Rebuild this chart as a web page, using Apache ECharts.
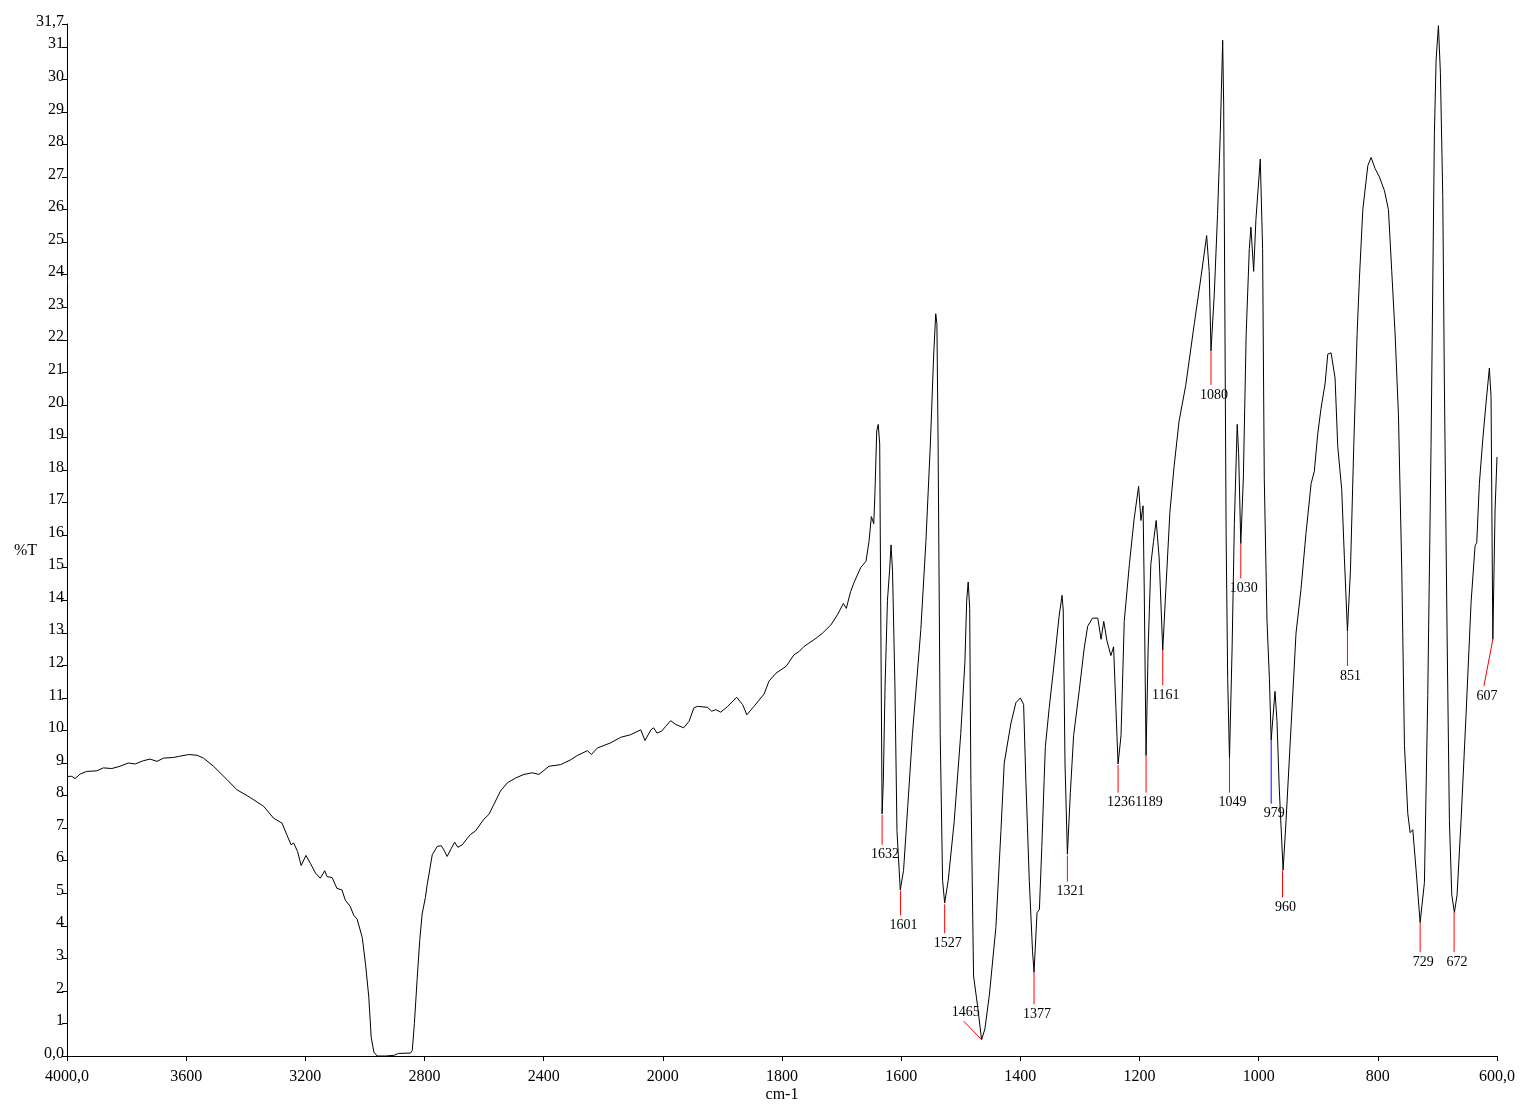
<!DOCTYPE html>
<html>
<head>
<meta charset="utf-8">
<script src="https://cdn.jsdelivr.net/npm/echarts@6/dist/echarts.min.js"></script>
<style>
html,body{margin:0;padding:0;background:#fff;}
#chart{width:1522px;height:1108px;}
</style>
</head>
<body>
<div id="chart"></div>
<script>
// Spectrum: wavenumber (cm-1) and %T
var wavenumbers = [4000,3984,3973,3956,3934,3900,3878,3850,3822,3794,3771,3744,3721,3698,3676,3643,3626,3592,3564,3542,3508,3463,3430,3385,3340,3307,3278,3262,3248,3239,3226,3214,3198,3183,3166,3150,3135,3127,3110,3094,3077,3066,3049,3038,3026,3009,2998,2987,2979,2970,2959,2930,2903,2887,2847,2841,2834,2825,2816,2808,2797,2791,2774,2757,2744,2735,2724,2710,2699,2688,2673,2656,2645,2629,2601,2584,2567,2545,2522,2494,2466,2438,2416,2382,2343,2309,2287,2253,2240,2220,2175,2141,2108,2074,2060,2040,2031,2020,2004,1995,1987,1978,1965,1956,1948,1942,1925,1918,1911,1903,1891,1876,1866,1859,1847,1830,1822,1810,1793,1780,1771,1763,1755,1743,1732,1718,1707,1697,1692,1685,1679,1668,1659,1654,1650,1646,1644,1641,1638.5,1636,1634,1632,1630,1627,1623,1619.5,1617,1614.5,1610.5,1607,1601.5,1596,1589,1581,1567,1558.5,1551,1545.5,1542,1540,1538,1534.5,1530.5,1527,1521,1511,1500,1493,1490,1487.5,1485,1483,1478.5,1472,1465,1459.5,1452,1441,1432.6,1427,1416,1407.5,1400,1394.5,1390.6,1385,1379.5,1377,1372,1368,1364,1360,1358,1351.5,1343,1335,1330,1328,1325,1321,1316,1310.6,1301,1293,1287,1279,1270,1264.5,1260,1254.6,1248,1243.5,1239.6,1236,1231,1225.6,1217,1209,1201.5,1197.6,1194,1192,1189,1185.5,1181,1176.5,1172,1167,1161,1156,1149,1142,1133.6,1122.4,1108,1097,1087.3,1083,1080,1074.5,1069,1064.5,1060.4,1058.7,1054.6,1052,1049,1044.6,1040.8,1036,1033.6,1030,1025.7,1021,1015.7,1013,1008.4,1004.6,997.3,993.4,990.6,986,982,979,972.6,969.3,965.4,959,954,945.7,937.3,929,920.6,912,906.6,900.9,895.3,888.6,884,878.5,871.8,867.3,860.6,856.1,851,846,840.4,834.8,830.9,825.2,816.8,811.3,804.6,797.3,788.9,782.2,776.6,771,765.4,759.8,755.3,749.7,745.8,741.3,735.8,729,721.8,716.2,710.7,705.1,702.2,698.3,695,691,688.3,683.8,679.9,675.9,671.5,667,660.3,651.9,643.5,636.8,634,629.6,623.9,618.4,612.8,610,607,603.2,600];
var transmittance = [8.59,8.59,8.52,8.66,8.74,8.76,8.85,8.83,8.90,9.00,8.97,9.07,9.12,9.05,9.15,9.17,9.20,9.26,9.24,9.15,8.90,8.49,8.18,7.94,7.67,7.31,7.15,6.79,6.49,6.54,6.28,5.85,6.16,5.92,5.62,5.46,5.69,5.51,5.48,5.15,5.10,4.79,4.59,4.33,4.20,3.64,2.83,1.81,0.58,0.12,0.00,0.00,0.02,0.08,0.09,0.17,0.99,2.32,3.55,4.36,4.87,5.26,6.18,6.44,6.46,6.33,6.13,6.38,6.57,6.41,6.49,6.69,6.81,6.91,7.27,7.42,7.73,8.14,8.39,8.54,8.65,8.70,8.65,8.90,8.95,9.10,9.23,9.38,9.26,9.46,9.62,9.79,9.87,10.02,9.69,10.02,10.08,9.92,9.98,10.13,10.30,10.18,10.08,10.28,10.69,10.74,10.71,10.59,10.64,10.56,10.74,11.02,10.79,10.48,10.74,11.12,11.51,11.76,11.97,12.32,12.43,12.58,12.68,12.83,12.99,13.24,13.55,13.90,13.75,14.26,14.55,15.00,15.20,15.80,16.57,16.35,17.30,19.20,19.40,18.80,12.90,7.44,8.40,11.40,14.00,14.90,15.70,14.90,11.40,6.90,5.10,5.70,7.66,9.90,13.10,15.80,18.80,21.50,22.80,22.50,18.80,9.90,5.40,4.70,5.40,7.20,9.90,12.10,14.00,14.56,13.75,8.40,2.46,1.57,0.50,0.83,1.87,3.95,6.90,9.00,10.20,10.85,11.00,10.80,8.40,5.40,3.20,2.57,4.40,4.50,6.40,8.50,9.50,10.70,12.10,13.50,14.15,13.70,8.97,6.20,8.10,9.84,11.25,12.50,13.20,13.45,13.45,12.80,13.35,12.75,12.30,12.57,10.70,8.97,9.84,13.35,15.10,16.50,17.50,16.45,16.90,14.25,9.23,12.50,15.10,15.80,16.45,15.30,12.47,14.25,16.70,18.10,19.50,20.60,22.50,23.90,25.20,24.10,21.66,23.40,25.85,28.30,31.20,29.20,16.00,11.60,9.16,12.50,16.35,19.40,18.50,15.74,17.75,22.15,24.80,25.46,24.10,25.70,27.55,24.80,17.75,13.36,11.60,9.71,11.20,10.30,8.20,5.71,7.24,10.10,12.99,14.33,16.05,17.58,17.96,19.10,19.90,20.64,21.56,21.60,20.83,18.73,17.40,15.28,13.05,14.90,18.73,22.17,23.90,26.00,27.35,27.60,27.26,27.00,26.58,26.00,24.09,22.17,19.70,14.90,9.54,7.44,6.86,6.95,5.71,4.10,5.33,11.07,18.73,28.30,30.60,31.65,30.20,26.40,20.64,12.99,7.24,4.95,4.41,4.95,7.24,10.50,13.94,15.67,15.77,17.58,18.93,20.06,21.13,20.26,12.80,16.80,18.40];

// Peak annotations
var peakLabels = ['1632','1601','1527','1465','1377','1321','1236','1189','1161','1080','1049','1030','979','960','851','729','672','607'];
var peakWn     = [1632,1601,1527,1465,1377,1321,1236,1189,1161,1080,1049,1030,979,960,851,729,672,607];
var peakTip    = [7.41,5.08,4.66,0.50,2.57,6.16,8.94,9.22,12.47,21.65,9.16,15.74,9.71,5.70,13.05,4.10,4.41,12.80];
var peakEndWn  = [1632,1601,1527,1495,1377,1321,1236,1189,1161,1080,1049,1030,979,960,851,729,672,622];
var peakEnd    = [6.49,4.32,3.77,1.07,1.59,5.36,8.09,8.09,11.39,20.61,8.09,14.67,7.75,4.87,11.98,3.19,3.19,11.36];
var peakColors = ['#ff0000','#ff0000','#ff0000','#ff0000','#ff0000','#ff0000','#ff0000','#ff0000','#ff0000','#ff0000','#ff0000','#ff0000','#0000ff','#ff0000','#ff0000','#ff0000','#ff0000','#ff0000'];
var peakLabelAbove = [false,false,false,true,false,false,false,false,false,false,false,false,false,false,false,false,false,false];

// X tick labels (axis is split: 4000-2000 compressed, 2000-600 expanded)
var xTickLabels = ['4000,0','3600','3200','2800','2400','2000','1800','1600','1400','1200','1000','800','600,0'];

// position transform for the split wavenumber scale
function toT(wn){ return wn >= 2000 ? (4000 - wn) / 2 : 1000 + (2000 - wn); }

var FONT = 'Liberation Serif';
var spectrum = wavenumbers.map(function(w,i){ return [toT(w), transmittance[i]]; });
var peaks = peakWn.map(function(w,i){ return [toT(w), peakTip[i], toT(peakEndWn[i]), peakEnd[i], i]; });

var chart = echarts.init(document.getElementById('chart'), null, {renderer:'canvas'});
chart.setOption({
  animation: false,
  backgroundColor: '#ffffff',
  grid: {left: 67, right: 25, top: 24, bottom: 49, containLabel: false},
  xAxis: {
    type: 'value', min: 0, max: 2400, interval: 200,
    name: 'cm-1', nameLocation: 'middle', nameGap: 31, nameMoveOverlap: false,
    nameTextStyle: {fontFamily: FONT, fontSize: 16, color: '#000'},
    axisLine: {show: true, onZero: false, lineStyle: {color: '#000', width: 1}},
    axisTick: {show: true, inside: false, length: 5, lineStyle: {color: '#000'}},
    axisLabel: {fontFamily: FONT, fontSize: 16, color: '#000', margin: 13,
      formatter: function(v){ var i = Math.round(v/200); return xTickLabels[i] !== undefined ? xTickLabels[i] : ''; }},
    splitLine: {show: false}
  },
  yAxis: {
    type: 'value', min: 0, max: 31.7, interval: 1,
    name: '%T', nameLocation: 'middle', nameRotate: 0, nameGap: 30, nameMoveOverlap: false,
    nameTextStyle: {fontFamily: FONT, fontSize: 16, color: '#000', verticalAlign: 'top', lineHeight: 21},
    axisLine: {show: true, lineStyle: {color: '#000', width: 1}},
    axisTick: {show: true, inside: false, length: 5, lineStyle: {color: '#000'}},
    axisLabel: {fontFamily: FONT, fontSize: 16, color: '#000', margin: 3, showMaxLabel: true, showMinLabel: true,
      verticalAlign: 'bottom', lineHeight: 5,
      formatter: function(v){
        if (Math.abs(v) < 1e-9) return '0,0';
        if (Math.abs(v - 31.7) < 1e-6) return '31,7';
        return String(Math.round(v));
      }},
    splitLine: {show: false}
  },
  series: [
    {
      type: 'line', data: spectrum, showSymbol: false, symbol: 'none', smooth: false,
      lineStyle: {color: '#000', width: 1}, z: 3, silent: true
    },
    {
      type: 'custom', data: peaks, z: 4, silent: true,
      encode: {x: [0, 2], y: [1, 3]},
      renderItem: function(params, api){
        var i = api.value(4);
        var p1 = api.coord([api.value(0), api.value(1)]);
        var p2 = api.coord([api.value(2), api.value(3)]);
        var above = peakLabelAbove[i];
        return {
          type: 'group',
          children: [
            {type: 'line', shape: {x1: p1[0], y1: p1[1], x2: p2[0], y2: p2[1]},
             style: {stroke: peakColors[i], lineWidth: 1}},
            {type: 'text', style: {
              text: peakLabels[i], x: p2[0] + (above ? 2 : 3), y: above ? p2[1] - 2 : p2[1] + 3,
              textAlign: 'center', textVerticalAlign: above ? 'bottom' : 'top',
              font: '14px "' + FONT + '"', fill: '#000'}}
          ]
        };
      }
    }
  ]
});
</script>
</body>
</html>
